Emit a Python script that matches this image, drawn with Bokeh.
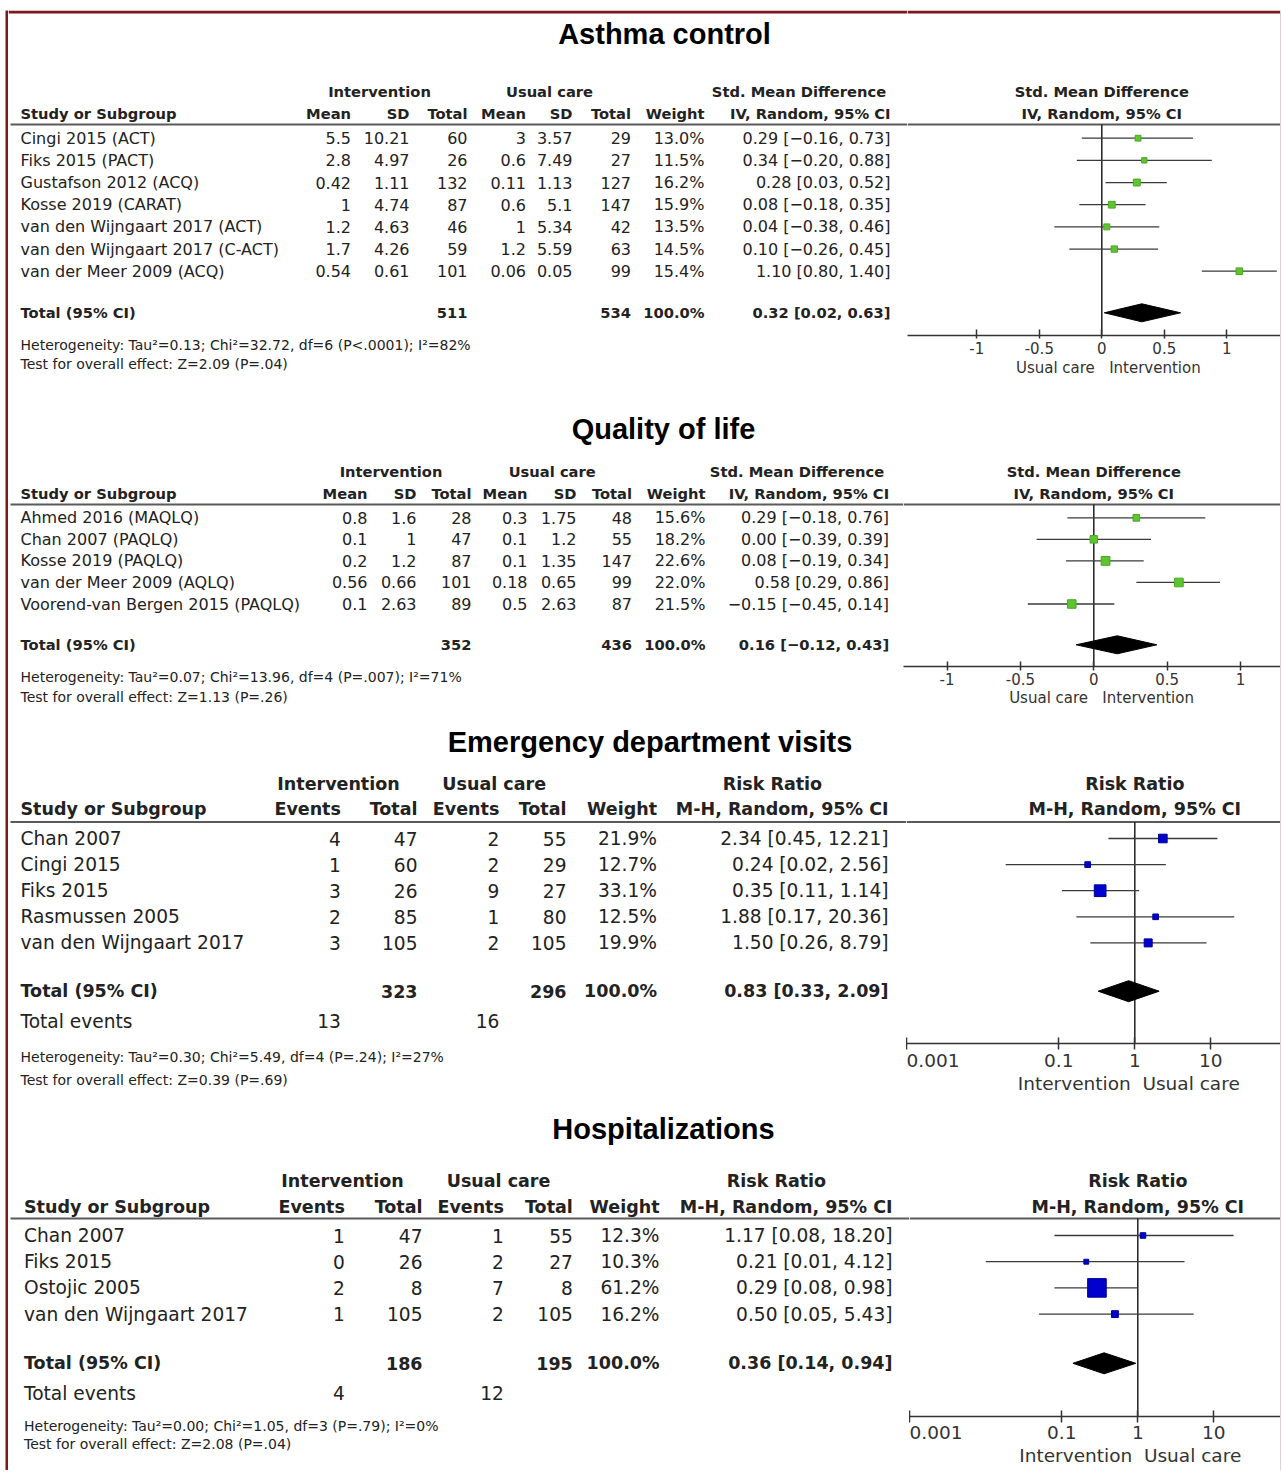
import math
from bokeh.plotting import figure
from bokeh.layouts import column, row
from bokeh.models import Range1d, FixedTicker, NumeralTickFormatter, ColumnDataSource, Title
from bokeh.embed import file_html
from bokeh.resources import INLINE
from bokeh.core.properties import value

# ---------------------------------------------------------------- data
# Asthma control (Std. Mean Difference)
ac_studies = ["Cingi 2015 (ACT)", "Fiks 2015  (PACT)", "Gustafson 2012 (ACQ)", "Kosse 2019 (CARAT)",
              "van den Wijngaart 2017 (ACT)", "van den Wijngaart 2017 (C-ACT)", "van der Meer 2009 (ACQ)"]
ac_int_mean = ["5.5", "2.8", "0.42", "1", "1.2", "1.7", "0.54"]
ac_int_sd = ["10.21", "4.97", "1.11", "4.74", "4.63", "4.26", "0.61"]
ac_int_n = [60, 26, 132, 87, 46, 59, 101]
ac_uc_mean = ["3", "0.6", "0.11", "0.6", "1", "1.2", "0.06"]
ac_uc_sd = ["3.57", "7.49", "1.13", "5.1", "5.34", "5.59", "0.05"]
ac_uc_n = [29, 27, 127, 147, 42, 63, 99]
ac_weight = [13.0, 11.5, 16.2, 15.9, 13.5, 14.5, 15.4]
ac_est = [0.29, 0.34, 0.28, 0.08, 0.04, 0.10, 1.10]
ac_lo = [-0.16, -0.20, 0.03, -0.18, -0.38, -0.26, 0.80]
ac_hi = [0.73, 0.88, 0.52, 0.35, 0.46, 0.45, 1.40]
ac_totals = [511, 534]
ac_pooled = [0.32, 0.02, 0.63]
ac_het = "Heterogeneity: Tau²=0.13; Chi²=32.72, df=6 (P<.0001); I²=82%"
ac_test = "Test for overall effect: Z=2.09 (P=.04)"

# Quality of life (Std. Mean Difference)
ql_studies = ["Ahmed 2016 (MAQLQ)", "Chan 2007 (PAQLQ)", "Kosse 2019 (PAQLQ)",
              "van der Meer 2009 (AQLQ)", "Voorend-van Bergen 2015 (PAQLQ)"]
ql_int_mean = ["0.8", "0.1", "0.2", "0.56", "0.1"]
ql_int_sd = ["1.6", "1", "1.2", "0.66", "2.63"]
ql_int_n = [28, 47, 87, 101, 89]
ql_uc_mean = ["0.3", "0.1", "0.1", "0.18", "0.5"]
ql_uc_sd = ["1.75", "1.2", "1.35", "0.65", "2.63"]
ql_uc_n = [48, 55, 147, 99, 87]
ql_weight = [15.6, 18.2, 22.6, 22.0, 21.5]
ql_est = [0.29, 0.00, 0.08, 0.58, -0.15]
ql_lo = [-0.18, -0.39, -0.19, 0.29, -0.45]
ql_hi = [0.76, 0.39, 0.34, 0.86, 0.14]
ql_totals = [352, 436]
ql_pooled = [0.16, -0.12, 0.43]
ql_het = "Heterogeneity: Tau²=0.07; Chi²=13.96, df=4 (P=.007); I²=71%"
ql_test = "Test for overall effect: Z=1.13 (P=.26)"

# Emergency department visits (Risk Ratio)
ed_studies = ["Chan 2007", "Cingi 2015", "Fiks 2015", "Rasmussen 2005", "van den Wijngaart 2017"]
ed_int_events = [4, 1, 3, 2, 3]
ed_int_n = [47, 60, 26, 85, 105]
ed_uc_events = [2, 2, 9, 1, 2]
ed_uc_n = [55, 29, 27, 80, 105]
ed_weight = [21.9, 12.7, 33.1, 12.5, 19.9]
ed_est = [2.34, 0.24, 0.35, 1.88, 1.50]
ed_lo = [0.45, 0.02, 0.11, 0.17, 0.26]
ed_hi = [12.21, 2.56, 1.14, 20.36, 8.79]
ed_totals = [323, 296]
ed_total_events = [13, 16]
ed_pooled = [0.83, 0.33, 2.09]
ed_het = "Heterogeneity: Tau²=0.30; Chi²=5.49, df=4 (P=.24); I²=27%"
ed_test = "Test for overall effect: Z=0.39 (P=.69)"

# Hospitalizations (Risk Ratio)
ho_studies = ["Chan 2007", "Fiks 2015", "Ostojic 2005", "van den Wijngaart 2017"]
ho_int_events = [1, 0, 2, 1]
ho_int_n = [47, 26, 8, 105]
ho_uc_events = [1, 2, 7, 2]
ho_uc_n = [55, 27, 8, 105]
ho_weight = [12.3, 10.3, 61.2, 16.2]
ho_est = [1.17, 0.21, 0.29, 0.50]
ho_lo = [0.08, 0.01, 0.08, 0.05]
ho_hi = [18.20, 4.12, 0.98, 5.43]
ho_totals = [186, 195]
ho_total_events = [4, 12]
ho_pooled = [0.36, 0.14, 0.94]
ho_het = "Heterogeneity: Tau²=0.00; Chi²=1.05, df=3 (P=.79); I²=0%"
ho_test = "Test for overall effect: Z=2.08 (P=.04)"

# axis ticks / headers
smd_ticks = [-1, -0.5, 0, 0.5, 1]
rr_ticks = [0.001, 0.1, 1, 10]
smd_null = 0.0
rr_null = 1.0
smd_heads = ["Mean", "SD", "Total", "Mean", "SD", "Total", "Weight", "IV, Random, 95% CI"]
rr_heads = ["Events", "Total", "Events", "Total", "Weight", "M-H, Random, 95% CI"]

# ---------------------------------------------------------------- style
FONT = "DejaVu Sans"
TFONT = "Liberation Sans"
TXT = "#222222"
BORDER = "#7a1a1a"
GREEN_F, GREEN_L = "#5ec530", "#4aa826"
BLUE_F, BLUE_L = "#0000cc", "#000099"
X0 = 8          # left edge of the content (after the red frame line)
PAGE_R = 1280   # right edge of the content
TOP_BORDER_Y = 11.5
# approximate DejaVu Sans advance widths (em) used to centre the two-part axis caption
EM_W = {"Usual care": 5.284, "Intervention": 6.104, " ": 0.318}
NB = "\u00a0"


def fmt(v):
    return f"{v:.2f}".replace("-", "\u2212")


def ci_text(e, l, h):
    return f"{fmt(e)} [{fmt(l)}, {fmt(h)}]"


def put(p, xs, ys, texts, align="left", size=16, bold=False, font=FONT, color=TXT):
    p.text(x=xs, y=ys, text=texts, text_align=align, text_baseline="middle",
           text_font=value(font), text_font_size=f"{size}px",
           text_font_style="bold" if bold else "normal", text_color=color)


def bare(w, h, color="white"):
    p = figure(width=w, height=h, toolbar_location=None, output_backend="svg",
               min_border=0, min_border_left=0, min_border_right=0, min_border_top=0, min_border_bottom=0,
               x_axis_location=None, y_axis_location=None, title=None, outline_line_color=None,
               background_fill_color=color, border_fill_color=color)
    p.grid.visible = False
    return p


def section(S, D):
    top, bot, L = S["top"], S["bottom"], S["forest_left"]
    mb = int(round(bot - S["axis_y"]))
    axis_y = bot - mb
    n = len(D["studies"])
    ys = [S["row0"] + i * S["step"] for i in range(n)]

    # ---------------- table part
    t = figure(width=L - X0, height=bot - top, x_range=Range1d(X0, L), y_range=Range1d(axis_y, top),
               toolbar_location=None, output_backend="svg", min_border=0,
               min_border_left=0, min_border_right=0, min_border_top=0, min_border_bottom=mb,
               outline_line_color=None, x_axis_location=None, y_axis_location=None, title=None)
    t.grid.visible = False

    put(t, [S["title_x"]], [S["title_y"]], [S["title"]], "center", 29, True, TFONT, "black")
    put(t, S["group_x"], [S["group_y"]] * len(S["group_x"]), D["groups"], "center", S["head_size"], True)
    put(t, [S["text_left"]], [S["head_y"]], ["Study or Subgroup"], "left", S["head_size"], True)
    put(t, S["cols"], [S["head_y"]] * len(S["cols"]), D["heads"], "right", S["head_size"], True)
    t.segment(x0=[10], y0=[S["line_y"]], x1=[L], y1=[S["line_y"]], line_width=2, line_color="#5a5a5a")

    put(t, [S["text_left"]] * n, ys, D["studies"], "left", S["row_size"])
    for cx, vals in zip(S["cols"], D["columns"]):
        put(t, [cx] * n, ys, [str(v) for v in vals], "right", S["row_size"])

    put(t, [S["text_left"]], [S["total_y"]], ["Total (95% CI)"], "left", S["head_size"], True)
    tc = [S["cols"][i] for i in D["total_cols"]]
    put(t, tc, [S["total_y"]] * len(tc), D["total_vals"], "right", S["head_size"], True)

    if D.get("events") is not None:
        put(t, [S["text_left"]], [S["events_y"]], ["Total events"], "left", S["row_size"])
        ec = [S["cols"][i] for i in D["events_cols"]]
        put(t, ec, [S["events_y"]] * len(ec), [str(v) for v in D["events"]], "right", S["row_size"])

    if S.get("top_border"):
        t.segment(x0=[X0], y0=[TOP_BORDER_Y], x1=[L], y1=[TOP_BORDER_Y], line_width=3, line_color=BORDER)

    # heterogeneity / overall effect notes sit below the frame -> titles in the "below" panel
    for txt_, pad in [(D["het"], S["het_pad"]), (D["test"], S["test_pad"])]:
        t.add_layout(Title(text=txt_, align="left", offset=S["text_left"] - X0, standoff=pad,
                           vertical_align="middle", text_font=FONT,
                           text_font_size=f"{S['note_size']}px", text_font_style="normal",
                           text_color=TXT), "below")

    # ---------------- forest part
    if S["log"]:
        null = rr_null
        xmin = 10 ** ((L - S["null_px"]) / S["scale_px"])
        xmax = 10 ** ((PAGE_R - S["null_px"]) / S["scale_px"])
    else:
        null = smd_null
        xmin = (L - S["null_px"]) / S["scale_px"]
        xmax = (PAGE_R - S["null_px"]) / S["scale_px"]

    f = figure(width=PAGE_R - L, height=bot - top, x_range=Range1d(xmin, xmax),
               y_range=Range1d(axis_y, top),
               x_axis_type="log" if S["log"] else "linear", x_axis_location="below",
               y_axis_location=None, toolbar_location=None, output_backend="svg",
               min_border=0, min_border_left=0, min_border_right=0, min_border_top=0,
               min_border_bottom=mb, outline_line_color=None, title=None)
    f.grid.visible = False
    ax = f.xaxis[0]
    ax.ticker = FixedTicker(ticks=D["ticks"], minor_ticks=[])
    ax.formatter = NumeralTickFormatter(format="0.[000]")
    ax.axis_line_width = 1.5
    ax.axis_line_color = "#333333"
    ax.major_tick_line_width = 1.5
    ax.major_tick_line_color = "#333333"
    ax.major_tick_in = S["tick_in"]
    ax.major_tick_out = S["tick_out"]
    ax.minor_tick_line_color = None
    ax.major_label_text_font = FONT
    ax.major_label_text_font_size = f"{S['tick_size']}px"
    ax.major_label_text_color = "#333333"
    ax.major_label_standoff = S["standoff"]

    # two-part caption ("favours" sides) centred on the line of no effect
    left_lab, right_lab = D["axis_labels"]
    fs = S["tick_size"]
    sw = EM_W[" "] * fs
    c_left = S["null_px"] - S["lab_off"][0] - EM_W[left_lab] * fs
    c_right = S["null_px"] + S["lab_off"][1] + EM_W[right_lab] * fs
    shift = (c_left + c_right) / 2 - (L + PAGE_R) / 2
    npad = int(round(abs(2 * shift) / sw))
    ngap = max(1, int(round((S["lab_off"][0] + S["lab_off"][1]) / sw)))
    cap = left_lab + NB * ngap + right_lab
    cap = NB * npad + cap if shift > 0 else cap + NB * npad
    ax.axis_label = cap
    ax.axis_label_text_font = FONT
    ax.axis_label_text_font_size = f"{fs}px"
    ax.axis_label_text_font_style = "normal"
    ax.axis_label_text_color = "#333333"
    ax.axis_label_standoff = S["lab_standoff"]

    put(f, [null, null], [S["group_y"], S["head_y"]], D["ftitles"], "center", S["head_size"], True)
    f.segment(x0=[xmin], y0=[S["line_y"]], x1=[xmax], y1=[S["line_y"]], line_width=2, line_color="#5a5a5a")
    if S.get("top_border"):
        f.segment(x0=[xmin], y0=[TOP_BORDER_Y], x1=[xmax], y1=[TOP_BORDER_Y], line_width=3, line_color=BORDER)
    f.segment(x0=[null], y0=[S["line_y"]], x1=[null], y1=[axis_y], line_width=1.5, line_color="#222222")

    src = ColumnDataSource(dict(est=D["est"], lo=D["lo"], hi=D["hi"], y=ys,
                                size=[0.85 * w ** 0.75 for w in D["weight"]]))
    f.segment(x0="lo", y0="y", x1="hi", y1="y", source=src, line_width=1.3, line_color="#3a3a3a")
    f.scatter(x="est", y="y", size="size", marker="square", source=src,
              fill_color=S["sq_fill"], line_color=S["sq_line"], line_width=1)

    pe, pl, ph = D["pooled"]
    ty, h = S["total_y"], S["diamond_h"]
    f.patch(x=[pl, pe, ph, pe], y=[ty, ty - h / 2, ty, ty + h / 2], fill_color="black", line_color="black")
    return row(t, f)


def smd_data(studies, im, isd, inn, um, usd, un, w, est, lo, hi, totals, pooled, het, test):
    return dict(studies=studies,
                columns=[im, isd, inn, um, usd, un, [f"{x:.1f}%" for x in w],
                         [ci_text(e, l, h) for e, l, h in zip(est, lo, hi)]],
                heads=smd_heads, groups=["Intervention", "Usual care", "Std. Mean Difference"],
                total_cols=[2, 5, 6, 7],
                total_vals=[str(totals[0]), str(totals[1]), "100.0%", ci_text(*pooled)],
                het=het, test=test, ticks=smd_ticks,
                ftitles=["Std. Mean Difference", "IV, Random, 95% CI"],
                est=est, lo=lo, hi=hi, weight=w, pooled=pooled,
                axis_labels=["Usual care", "Intervention"])


def rr_data(studies, ie, inn, ue, un, w, est, lo, hi, totals, tev, pooled, het, test):
    return dict(studies=studies,
                columns=[ie, inn, ue, un, [f"{x:.1f}%" for x in w],
                         [ci_text(e, l, h) for e, l, h in zip(est, lo, hi)]],
                heads=rr_heads, groups=["Intervention", "Usual care", "Risk Ratio"],
                total_cols=[1, 3, 4, 5],
                total_vals=[str(totals[0]), str(totals[1]), "100.0%", ci_text(*pooled)],
                events=tev, events_cols=[0, 2],
                het=het, test=test, ticks=rr_ticks,
                ftitles=["Risk Ratio", "M-H, Random, 95% CI"],
                est=est, lo=lo, hi=hi, weight=w, pooled=pooled,
                axis_labels=["Intervention", "Usual care"])


# ---------------------------------------------------------------- layout (reference pixel coordinates)
S_AC = dict(title="Asthma control", title_x=664, title_y=33, top=10, bottom=395, top_border=True,
            group_y=90.5, head_y=112.5, line_y=124, row0=137.7, step=22.17, total_y=312.3,
            het_pad=0, test_pad=3, text_left=20,
            group_x=[379, 549, 798.5], cols=[350.5, 409, 467, 525.5, 572, 630.5, 704, 890],
            row_size=16, head_size=14.7, note_size=14,
            forest_left=907, null_px=1101.3, scale_px=125, log=False,
            axis_y=335, tick_size=15, tick_in=6, tick_out=3, standoff=3,
            lab_off=(7, 7), lab_standoff=2, diamond_h=18, sq_fill=GREEN_F, sq_line=GREEN_L)

S_QL = dict(title="Quality of life", title_x=663, title_y=428.3, top=395, bottom=718,
            group_y=471, head_y=493.3, line_y=504, row0=517.3, step=21.55, total_y=644.3,
            het_pad=2, test_pad=3, text_left=20,
            group_x=[390.5, 551.7, 796.5], cols=[367, 416, 471, 527, 576, 631.5, 705, 888.6],
            row_size=16, head_size=14.7, note_size=14,
            forest_left=903, null_px=1093.3, scale_px=146.7, log=False,
            axis_y=666, tick_size=15, tick_in=5, tick_out=4, standoff=2,
            lab_off=(7, 8), lab_standoff=1, diamond_h=18, sq_fill=GREEN_F, sq_line=GREEN_L)

S_ED = dict(title="Emergency department visits", title_x=649.5, title_y=741, top=718, bottom=1103,
            group_y=783, head_y=808.3, line_y=821.5, row0=838, step=26.1, total_y=990.7,
            events_y=1020.5, het_pad=9, test_pad=0, text_left=20,
            group_x=[338, 493.7, 772], cols=[340.4, 417, 498.8, 566, 656.5, 888],
            row_size=18.6, head_size=17.5, note_size=14,
            forest_left=906, null_px=1134.3, scale_px=76, log=True,
            axis_y=1043, tick_size=18.5, tick_in=6, tick_out=6, standoff=4,
            lab_off=(4, 8), lab_standoff=3, diamond_h=21, sq_fill=BLUE_F, sq_line=BLUE_L)

S_HO = dict(title="Hospitalizations", title_x=663, title_y=1128.3, top=1103, bottom=1470,
            group_y=1180, head_y=1206.5, line_y=1218, row0=1235, step=26.2, total_y=1362.8,
            events_y=1392.5, het_pad=0, test_pad=1, text_left=23.5,
            group_x=[342, 498, 776], cols=[344.4, 422, 503.4, 572.3, 659, 892],
            row_size=18.6, head_size=17.5, note_size=14,
            forest_left=909, null_px=1137.3, scale_px=76, log=True,
            axis_y=1416, tick_size=18.5, tick_in=6, tick_out=6, standoff=3,
            lab_off=(7, 6), lab_standoff=3, diamond_h=21, sq_fill=BLUE_F, sq_line=BLUE_L)

D_AC = smd_data(ac_studies, ac_int_mean, ac_int_sd, ac_int_n, ac_uc_mean, ac_uc_sd, ac_uc_n,
                ac_weight, ac_est, ac_lo, ac_hi, ac_totals, ac_pooled, ac_het, ac_test)
D_QL = smd_data(ql_studies, ql_int_mean, ql_int_sd, ql_int_n, ql_uc_mean, ql_uc_sd, ql_uc_n,
                ql_weight, ql_est, ql_lo, ql_hi, ql_totals, ql_pooled, ql_het, ql_test)
D_ED = rr_data(ed_studies, ed_int_events, ed_int_n, ed_uc_events, ed_uc_n, ed_weight,
               ed_est, ed_lo, ed_hi, ed_totals, ed_total_events, ed_pooled, ed_het, ed_test)
D_HO = rr_data(ho_studies, ho_int_events, ho_int_n, ho_uc_events, ho_uc_n, ho_weight,
               ho_est, ho_lo, ho_hi, ho_totals, ho_total_events, ho_pooled, ho_het, ho_test)

body_h = 1470 - 10
content = column(section(S_AC, D_AC), section(S_QL, D_QL), section(S_ED, D_ED), section(S_HO, D_HO))
layout = column(bare(PAGE_R + 1, 10),
                row(bare(5, body_h), bare(3, body_h, BORDER), content, bare(1, body_h, "#c4a4a4")))

open("out.html", "w").write(file_html(layout, INLINE, title="Forest plots"))
